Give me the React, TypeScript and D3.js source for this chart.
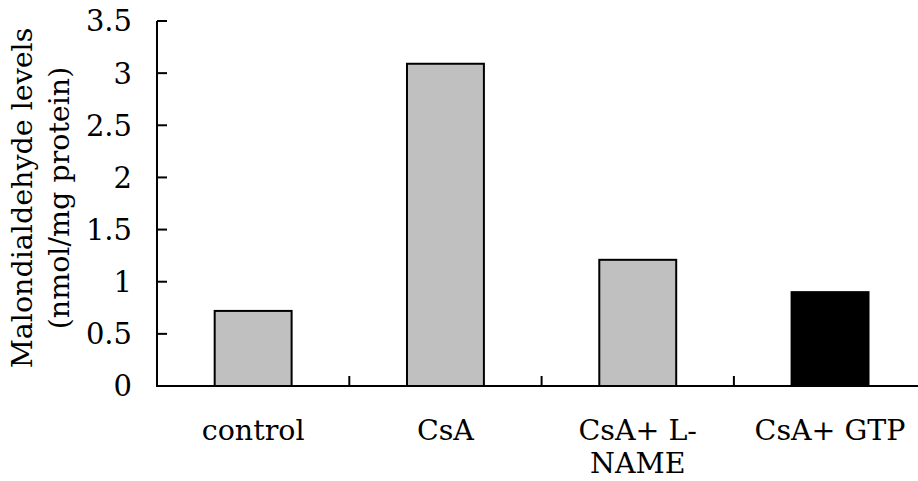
import React from "react";
import * as d3 from "d3";

const categories = ["control", "CsA", "CsA+ L-|NAME", "CsA+ GTP"];
const values = [0.72, 3.09, 1.21, 0.9];
const fills = ["#c0c0c0", "#c0c0c0", "#c0c0c0", "#000000"];
const yTicks = [0, 0.5, 1, 1.5, 2, 2.5, 3, 3.5];
const yTitle = ["Malondialdehyde levels", "(nmol/mg protein)"];

const W = 918;
const H = 481;
const x0 = 157;
const x1 = 157 + 4 * 192.3;
const yBase = 386;
const yTop = 21;
const font = "'DejaVu Serif', serif";

export default function App() {
  const x = d3.scaleBand<string>().domain(categories).range([x0, x1]).paddingInner(0.6).paddingOuter(0.3);
  const band = d3.scaleBand<string>().domain(categories).range([x0, x1]);
  const y = d3.scaleLinear().domain([0, 3.5]).range([yBase, yTop]);
  return (
    <svg width={W} height={H} style={{ position: "absolute", left: 0, top: 0 }}>
      <rect x={0} y={0} width={W} height={H} fill="#fff" />
      {categories.map((c, i) => (
        <rect key={c} x={x(c)} y={y(values[i])} width={x.bandwidth()} height={yBase - y(values[i])}
          fill={fills[i]} stroke="#000" strokeWidth={2} />
      ))}
      <line x1={x0} x2={x0} y1={yTop} y2={yBase} stroke="#000" strokeWidth={2} />
      <line x1={x0 - 1} x2={x1} y1={yBase} y2={yBase} stroke="#000" strokeWidth={2} />
      {yTicks.map((t) => (
        <g key={t}>
          <line x1={x0} x2={x0 + 10} y1={y(t)} y2={y(t)} stroke="#000" strokeWidth={2} />
          <text x={132} y={y(t)} dy="0.36em" textAnchor="end" fontFamily={font} fontSize={29}>{t}</text>
        </g>
      ))}
      {categories.map((c) => (
        <line key={"t" + c} x1={(band(c) as number)} x2={(band(c) as number)} y1={yBase} y2={yBase - 10} stroke="#000" strokeWidth={2} />
      ))}
      {categories.map((c) => {
        const cx = (band(c) as number) + band.bandwidth() / 2;
        const lines = c.split("|");
        return (
          <text key={"l" + c} x={cx} y={440} textAnchor="middle" fontFamily={font} fontSize={28.5}>
            {lines.map((l, j) => (
              <tspan key={j} x={cx} dy={j === 0 ? 0 : 33}>{l}</tspan>
            ))}
          </text>
        );
      })}
      <text transform={`translate(22,198) rotate(-90)`} textAnchor="middle" fontFamily={font} fontSize={28.5} dy="0.35em">{yTitle[0]}</text>
      <text transform={`translate(59,198) rotate(-90)`} textAnchor="middle" fontFamily={font} fontSize={28.5} dy="0.35em">{yTitle[1]}</text>
    </svg>
  );
}
